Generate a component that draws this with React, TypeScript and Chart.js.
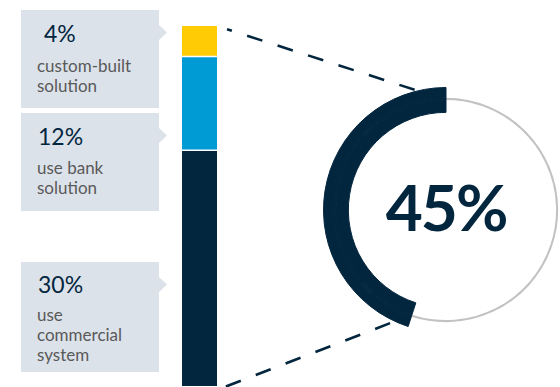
import React, { useEffect, useRef } from "react";
import { Chart, registerables } from "chart.js";

Chart.register(...registerables);

// ---- data ----
const SEGMENT_LABELS = ["use commercial system", "use bank solution", "custom-built solution"];
const SEGMENT_VALUES = [30, 12, 4];
const BOX_TITLES = ["4%", "12%", "30%"];
const BOX_LINES = [["custom-built", "solution"], ["use bank", "solution"], ["use", "commercial", "system"]];
const RING_LABELS = ["other", "total"];
const RING_VALUES = [55, 45];
const CENTER_TEXT = "45%";

// ---- styles ----
const NAVY = "#03263f";
const SEGMENT_COLORS = [NAVY, "#009bd5", "#ffcb05"];
const RING_GRAY = "#c2c2c2";
const BOX_BG = "#dce2ea";
const FONT = "Lato, 'Open Sans', sans-serif";

const W = 560;
const H = 387;
const DONUT_LEFT = 323;
const DONUT_TOP = 87;
const DONUT_SIZE = 246;

const BOXES = [
  { top: 10, height: 98, titleTop: 22, titleLeft: 44, linesTop: 56 },
  { top: 113, height: 98, titleTop: 125, titleLeft: 38, linesTop: 158.4 },
  { top: 262, height: 110, titleTop: 273, titleLeft: 38, linesTop: 305 },
];

export default function App() {
  const barRef = useRef<HTMLCanvasElement | null>(null);
  const donutRef = useRef<HTMLCanvasElement | null>(null);

  useEffect(() => {
    if (!barRef.current || !donutRef.current) return;
    const clear = "rgba(0,0,0,0)";
    const ringDs = (colors: string[], weight: number) => ({
      data: RING_VALUES,
      backgroundColor: colors,
      borderColor: NAVY,
      borderWidth: [0, 1],
      weight,
    });
    const donut = new Chart(donutRef.current, {
      type: "doughnut",
      data: {
        labels: RING_LABELS,
        datasets: [
          ringDs([clear, NAVY], 10.4),
          ringDs([RING_GRAY, NAVY], 2.1),
          ringDs([clear, NAVY], 12.5),
        ],
      },
      options: {
        responsive: false,
        animation: false,
        cutout: "79.7%",
        layout: { padding: 0 },
        plugins: { legend: { display: false }, tooltip: { enabled: false } },
      },
    } as any);

    const connectorPlugin = {
      id: "connectors",
      afterDatasetsDraw(chart: any) {
        const ctx = chart.ctx;
        const bottomBar = chart.getDatasetMeta(0).data[0];
        const topBar = chart.getDatasetMeta(SEGMENT_VALUES.length - 1).data[0];
        const right = topBar.x + topBar.width / 2;
        const topY = topBar.y;
        const bottomY = bottomBar.base;
        const mid = donut.getDatasetMeta(1).data[1] as any;
        const outer = (donut.getDatasetMeta(0).data[1] as any).outerRadius;
        const inner = (donut.getDatasetMeta(2).data[1] as any).innerRadius;
        const r = (outer + inner) / 2;
        const cx = DONUT_LEFT + mid.x;
        const cy = DONUT_TOP + mid.y;
        const pt = (a: number) => ({ x: cx + r * Math.cos(a), y: cy + r * Math.sin(a) });
        const line = (from: any, to: any, trimFrom: number, trimTo: number, offset: number) => {
          const dx = to.x - from.x;
          const dy = to.y - from.y;
          const len = Math.hypot(dx, dy);
          const ux = dx / len;
          const uy = dy / len;
          ctx.save();
          ctx.strokeStyle = NAVY;
          ctx.lineWidth = 2.6;
          ctx.setLineDash([16, 16]);
          ctx.lineDashOffset = offset;
          ctx.beginPath();
          ctx.moveTo(from.x + ux * trimFrom, from.y + uy * trimFrom);
          ctx.lineTo(to.x - ux * trimTo, to.y - uy * trimTo);
          ctx.stroke();
          ctx.restore();
        };
        line(pt(mid.endAngle), { x: right, y: topY }, 0, 10.5, -1);
        line(pt(mid.startAngle), { x: right, y: bottomY + 4 }, 8, 0, 16.5);
      },
    };

    const total = SEGMENT_VALUES.reduce((a, b) => a + b, 0);
    const bar = new Chart(barRef.current, {
      type: "bar",
      data: {
        labels: ["share"],
        datasets: SEGMENT_VALUES.map((v, i) => ({
          label: SEGMENT_LABELS[i],
          data: [v],
          backgroundColor: SEGMENT_COLORS[i],
          borderColor: "#ffffff",
          borderWidth: i === 0 ? 0 : { top: 0, left: 0, right: 0, bottom: 2 },
          borderSkipped: false,
          barPercentage: 1,
          categoryPercentage: 1,
        })),
      },
      options: {
        responsive: false,
        animation: false,
        layout: { padding: { left: 182, right: W - 217, top: 26, bottom: 1 } },
        scales: {
          x: { stacked: true, display: false },
          y: { stacked: true, display: false, min: 0, max: total },
        },
        plugins: { legend: { display: false }, tooltip: { enabled: false } },
      },
      plugins: [connectorPlugin],
    } as any);

    return () => {
      bar.destroy();
      donut.destroy();
    };
  }, []);

  const arrowClip = (h: number) =>
    `polygon(0 0, 138px 0, 138px 15px, 146px 22.5px, 138px 30px, 138px ${h}px, 0 ${h}px)`;

  return (
    <div
      style={{
        position: "absolute",
        left: 0,
        top: 0,
        width: W,
        height: H,
        overflow: "hidden",
        background: "#ffffff",
        fontFamily: FONT,
      }}
    >
      {BOXES.map((b, i) => (
        <React.Fragment key={i}>
          <div
            style={{
              position: "absolute",
              left: 21,
              top: b.top,
              width: 146,
              height: b.height,
              background: BOX_BG,
              clipPath: arrowClip(b.height),
            }}
          />
          <div
            style={{
              position: "absolute",
              left: b.titleLeft,
              top: b.titleTop,
              fontSize: 23,
              lineHeight: "23px",
              color: NAVY,
              whiteSpace: "nowrap",
            }}
          >
            {BOX_TITLES[i]}
          </div>
          <div
            style={{
              position: "absolute",
              left: 37,
              top: b.linesTop,
              fontSize: 17,
              lineHeight: "20px",
              color: "#595959",
              whiteSpace: "nowrap",
            }}
          >
            {BOX_LINES[i].map((t, j) => (
              <div key={j}>{t}</div>
            ))}
          </div>
        </React.Fragment>
      ))}
      <canvas
        ref={barRef}
        width={W}
        height={H}
        style={{ position: "absolute", left: 0, top: 0, width: W, height: H }}
      />
      <canvas
        ref={donutRef}
        width={DONUT_SIZE}
        height={DONUT_SIZE}
        style={{
          position: "absolute",
          left: DONUT_LEFT,
          top: DONUT_TOP,
          width: DONUT_SIZE,
          height: DONUT_SIZE,
        }}
      />
      <div
        style={{
          position: "absolute",
          left: DONUT_LEFT + DONUT_SIZE / 2 - 100,
          top: 175,
          width: 200,
          textAlign: "center",
          fontSize: 64,
          lineHeight: "64px",
          fontWeight: 700,
          color: NAVY,
          letterSpacing: -2,
          whiteSpace: "nowrap",
        }}
      >
        {CENTER_TEXT}
      </div>
    </div>
  );
}
